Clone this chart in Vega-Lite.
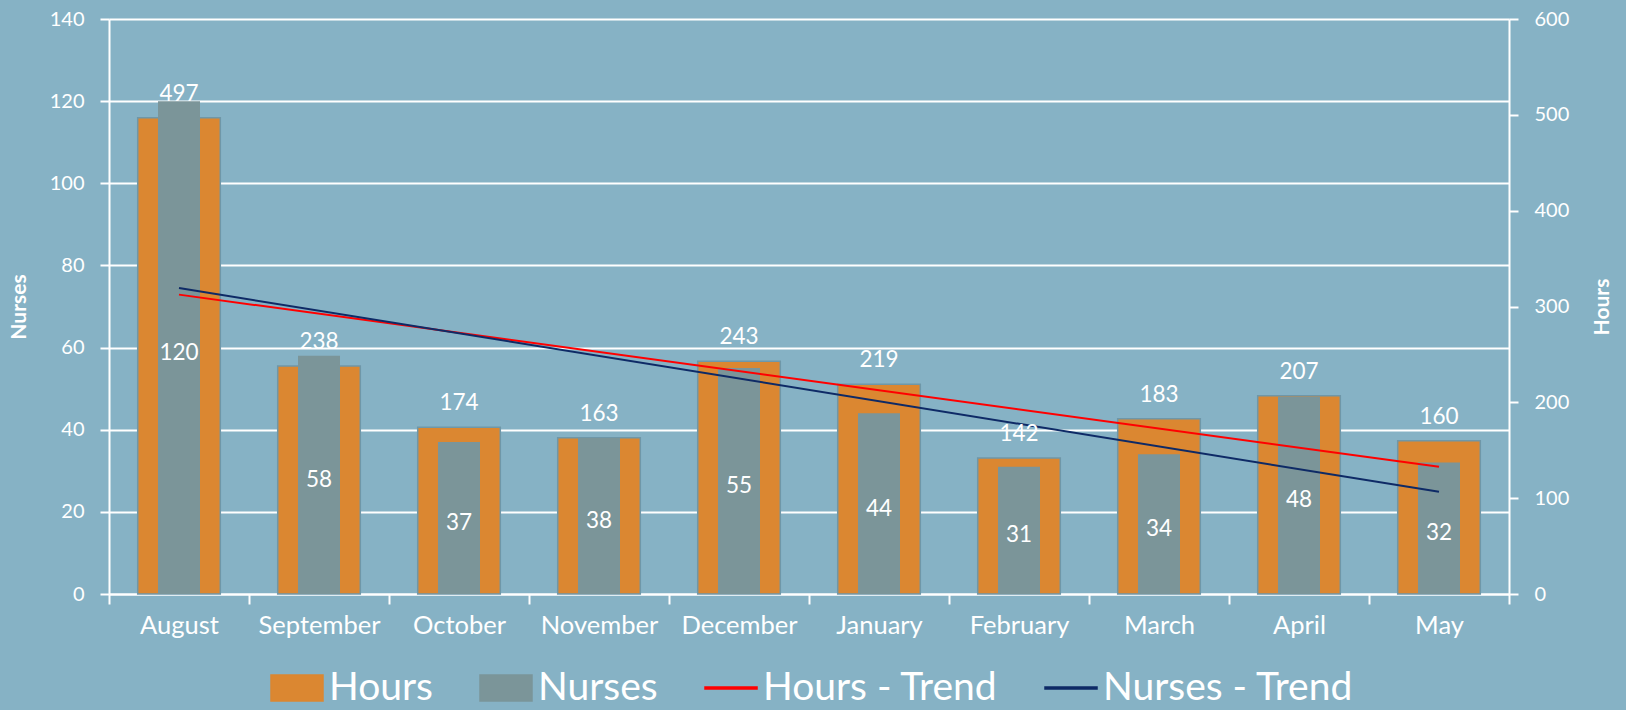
{
  "$schema": "https://vega.github.io/schema/vega-lite/v6.json",
  "width": 1400,
  "height": 575,
  "autosize": {"type": "none"},
  "padding": {"left": 109, "top": 19, "right": 117, "bottom": 116},
  "background": "#86b2c5",
  "config": {
    "view": {"stroke": null},
    "font": "Lato",
    "axis": {
      "labelColor": "white", "titleColor": "white", "domainColor": "white",
      "tickColor": "white", "gridColor": "white", "domainWidth": 2,
      "tickWidth": 2, "gridWidth": 2, "gridOpacity": 1,
      "labelFont": "Lato", "titleFont": "Lato"
    },
    "legend": {
      "title": null, "orient": "none", "legendX": 161, "legendY": 642, "direction": "horizontal",
      "labelFontSize": 39, "labelColor": "white", "labelFont": "Lato", "labelLimit": 0, "symbolSize": 2704,
      "columnPadding": 44, "labelOffset": 5, "padding": 0, "symbolOpacity": 1
    }
  },
  "datasets": {
    "monthly": [
      {"month": "August", "Hours": 497, "Nurses": 120},
      {"month": "September", "Hours": 238, "Nurses": 58},
      {"month": "October", "Hours": 174, "Nurses": 37},
      {"month": "November", "Hours": 163, "Nurses": 38},
      {"month": "December", "Hours": 243, "Nurses": 55},
      {"month": "January", "Hours": 219, "Nurses": 44},
      {"month": "February", "Hours": 142, "Nurses": 31},
      {"month": "March", "Hours": 183, "Nurses": 34},
      {"month": "April", "Hours": 207, "Nurses": 48},
      {"month": "May", "Hours": 160, "Nurses": 32}
    ],
    "trend": [
      {"month": "August", "series": "Hours - Trend", "value": 312.4},
      {"month": "May", "series": "Hours - Trend", "value": 132.8},
      {"month": "August", "series": "Nurses - Trend", "value": 74.5},
      {"month": "May", "series": "Nurses - Trend", "value": 24.9}
    ]
  },
  "encoding": {
    "x": {
      "field": "month", "type": "nominal",
      "sort": ["August","September","October","November","December","January","February","March","April","May"],
      "scale": {"paddingInner": 0, "paddingOuter": 0},
      "axis": {"title": null, "tickBand": "extent", "labelAngle": 0, "labelFontSize": 25.5, "labelPadding": 9, "tickSize": 10}
    }
  },
  "layer": [
    {
      "data": {"name": "monthly"},
      "mark": {"type": "bar", "width": {"band": 0.59}, "stroke": "#6f97a8", "strokeWidth": 1.5},
      "encoding": {
        "y": {"field": "Hours", "type": "quantitative",
          "scale": {"domain": [0, 600], "nice": false},
          "axis": {"orient": "right", "title": "Hours", "titleAngle": 270, "titleFontSize": 21, "titleFontWeight": "bold",
            "values": [0,100,200,300,400,500,600], "grid": false, "labelFontSize": 20, "tickSize": 9, "labelPadding": 16, "titlePadding": 44}},
        "color": {"datum": "Hours", "type": "nominal",
          "scale": {"domain": ["Hours","Nurses","Hours - Trend","Nurses - Trend"], "range": ["#db8731","#7b9599","#ff0000","#0e2a66"]},
          "legend": {
            "title": null,
            "encode": {"symbols": {"update": {
              "shape": {"signal": "datum.value === 'Hours' || datum.value === 'Nurses' ? 'M-1,-0.5H1V0.5H-1Z' : 'M-1,-0.04H1V0.04H-1Z'"},
              "fill": {"signal": "scale('color', datum.value)"},
              "stroke": {"signal": "datum.value === 'Hours' ? '#6f97a8' : 'transparent'"},
              "strokeWidth": {"value": 1.5},
              "opacity": {"value": 1}
            }}}
          }}
      }
    },
    {
      "data": {"name": "monthly"},
      "mark": {"type": "bar", "width": {"band": 0.3}},
      "encoding": {
        "y": {"field": "Nurses", "type": "quantitative",
          "scale": {"domain": [0, 140], "nice": false},
          "axis": {"orient": "left", "title": "Nurses", "titleFontSize": 21, "titleFontWeight": "bold",
            "values": [0,20,40,60,80,100,120,140], "grid": true, "labelFontSize": 20, "tickSize": 9, "labelPadding": 16, "titlePadding": 20}},
        "color": {"datum": "Nurses", "type": "nominal",
          "legend": {
            "title": null,
            "encode": {"symbols": {"update": {
              "shape": {"signal": "datum.value === 'Hours' || datum.value === 'Nurses' ? 'M-1,-0.5H1V0.5H-1Z' : 'M-1,-0.04H1V0.04H-1Z'"},
              "fill": {"signal": "scale('color', datum.value)"},
              "stroke": {"signal": "datum.value === 'Hours' ? '#6f97a8' : 'transparent'"},
              "strokeWidth": {"value": 1.5},
              "opacity": {"value": 1}
            }}}
          }}
      }
    },
    {
      "data": {"name": "trend"},
      "transform": [{"filter": "datum.series === 'Hours - Trend'"}],
      "mark": {"type": "line", "strokeWidth": 2},
      "encoding": {
        "y": {"field": "value", "type": "quantitative", "scale": {"domain": [0, 600], "nice": false}, "axis": null},
        "color": {"field": "series", "type": "nominal",
          "legend": {
            "title": null,
            "encode": {"symbols": {"update": {
              "shape": {"signal": "datum.value === 'Hours' || datum.value === 'Nurses' ? 'M-1,-0.5H1V0.5H-1Z' : 'M-1,-0.04H1V0.04H-1Z'"},
              "fill": {"signal": "scale('color', datum.value)"},
              "stroke": {"signal": "datum.value === 'Hours' ? '#6f97a8' : 'transparent'"},
              "strokeWidth": {"value": 1.5},
              "opacity": {"value": 1}
            }}}
          }}
      }
    },
    {
      "data": {"name": "trend"},
      "transform": [{"filter": "datum.series === 'Nurses - Trend'"}],
      "mark": {"type": "line", "strokeWidth": 2},
      "encoding": {
        "y": {"field": "value", "type": "quantitative", "scale": {"domain": [0, 140], "nice": false}, "axis": null},
        "color": {"field": "series", "type": "nominal",
          "legend": {
            "title": null,
            "encode": {"symbols": {"update": {
              "shape": {"signal": "datum.value === 'Hours' || datum.value === 'Nurses' ? 'M-1,-0.5H1V0.5H-1Z' : 'M-1,-0.04H1V0.04H-1Z'"},
              "fill": {"signal": "scale('color', datum.value)"},
              "stroke": {"signal": "datum.value === 'Hours' ? '#6f97a8' : 'transparent'"},
              "strokeWidth": {"value": 1.5},
              "opacity": {"value": 1}
            }}}
          }}
      }
    },
    {
      "data": {"name": "monthly"},
      "mark": {"type": "text", "baseline": "bottom", "dy": -12, "fontSize": 22.5, "color": "white", "font": "Lato"},
      "encoding": {
        "y": {"field": "Hours", "type": "quantitative", "scale": {"domain": [0, 600], "nice": false}, "axis": null},
        "text": {"field": "Hours", "type": "quantitative"}
      }
    },
    {
      "data": {"name": "monthly"},
      "mark": {"type": "text", "baseline": "middle", "dy": 5, "fontSize": 22.5, "color": "white", "font": "Lato"},
      "encoding": {
        "y": {"field": "Nurses", "type": "quantitative", "scale": {"domain": [0, 280], "nice": false}, "axis": null},
        "text": {"field": "Nurses", "type": "quantitative"}
      }
    }
  ],
  "resolve": {"scale": {"y": "independent"}}
}
